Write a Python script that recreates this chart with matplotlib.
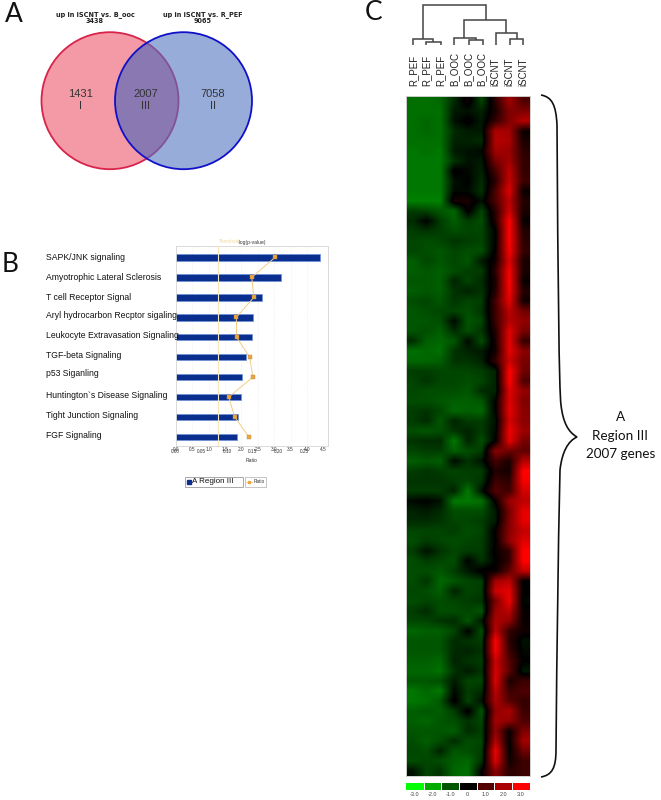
import matplotlib
matplotlib.use("Agg")
import matplotlib.pyplot as plt
from matplotlib.patches import Circle, Rectangle, PathPatch
from matplotlib.path import Path
from matplotlib.colors import LinearSegmentedColormap

W, H = 661, 800
plt.rcParams['font.family'] = ['Liberation Sans', 'DejaVu Sans']

# ---- Panel A data
venn_titles = ["up in iSCNT vs. B_ooc\n3438", "up in iSCNT vs. R_PEF\n9065"]
venn_counts = ["1431\nI", "2007\nIII", "7058\nII"]

# ---- Panel B data
pathways = ["SAPK/JNK signaling", "Amyotrophic Lateral Sclerosis", "T cell Receptor Signal",
            "Aryl hydrocarbon Recptor sigaling", "Leukocyte Extravasation Signaling",
            "TGF-beta Signaling", "p53 Siganling", "Huntington`s Disease Signaling",
            "Tight Junction Signaling", "FGF Signaling"]
label_y = [257, 277, 297, 316, 336, 356, 374, 396, 415, 436]
neg_log_p = [4.39, 3.22, 2.62, 2.34, 2.31, 2.15, 2.02, 2.00, 1.90, 1.87]
ratio = [0.193, 0.148, 0.152, 0.118, 0.1185, 0.144, 0.150, 0.103, 0.115, 0.1425]
threshold = 1.3
top_ticks = [0.0, 0.5, 1.0, 1.5, 2.0, 2.5, 3.0, 3.5, 4.0, 4.5]
bottom_ticks = [0.00, 0.05, 0.10, 0.15, 0.20, 0.25]

# ---- Panel C data
sample_labels = ["R_PEF", "R_PEF", "R_PEF", "B_OOC", "B_OOC", "B_OOC", "iSCNT", "iSCNT", "iSCNT"]
colorbar_values = [-3, -2, -1, 0, 1, 2, 3]
colorbar_labels = ["-3.0", "-2.0", "-1.0", "0", "1.0", "2.0", "3.0"]
heat_rows = [
 [-1.3,-1.3,-1.2,-0.5, 0.2,-0.8, 0.5, 1.9, 0.9],
 [-1.3,-1.3,-1.3,-0.3,-0.2,-0.4, 0.3, 1.5, 1.5],
 [-1.3,-1.2,-1.3,-0.2, 0.1,-0.3, 0.6, 1.5, 2.1],
 [-1.3,-1.2,-1.3,-0.5,-0.3,-0.3, 2.0, 1.9, 0.1],
 [-1.3,-1.3,-1.3,-0.4,-0.4,-0.5, 2.1, 2.0, 0.3],
 [-1.4,-1.3,-1.4,-0.3,-0.2,-0.1, 1.9, 1.8, 0.5],
 [-1.4,-1.4,-1.4,-0.6,-0.2,-0.3, 1.4, 1.9, 0.6],
 [-1.4,-1.4,-1.4, 0.1,-0.1,-0.4, 0.8, 2.2, 0.6],
 [-1.4,-1.4,-1.4,-0.2, 0.0,-0.5, 0.5, 2.3, 0.7],
 [-1.4,-1.4,-1.4,-0.1,-0.1,-0.6, 0.9, 2.6, 0.1],
 [-1.5,-1.5,-1.5, 0.3, 0.3,-0.2, 0.9, 2.2, 0.4],
 [-0.7,-0.8,-1.0,-1.2, 0.1,-0.8, 0.5, 2.4, 0.3],
 [-0.5, 0.0,-0.7,-1.1,-0.7,-0.9, 0.4, 3.0, 0.1],
 [-0.7,-0.6,-0.7,-0.9,-0.8,-0.8, 0.0, 3.0, 0.4],
 [-0.8,-0.9,-0.8,-0.6,-0.7,-0.8, 0.0, 3.0, 0.5],
 [-0.8,-0.9,-1.0,-0.8,-0.9,-0.9, 0.1, 2.9, 0.6],
 [-1.1,-0.8,-1.0,-0.8,-1.0,-0.3, 0.2, 2.6, 0.3],
 [-1.1,-1.0,-1.1,-0.9,-0.7,-0.7, 0.5, 2.9, 0.3],
 [-1.0,-1.0,-1.1,-0.4,-0.8,-0.5, 0.3, 3.0, 0.1],
 [-1.1,-1.0,-1.1,-0.6,-0.4,-0.6, 0.4, 2.9, 0.4],
 [-0.9,-0.8,-1.0,-0.6,-0.8,-0.7, 0.8, 2.7, 0.2],
 [-1.0,-0.9,-0.8,-0.8,-0.9,-0.6, 0.7, 2.2, 1.3],
 [-1.0,-1.0,-0.9,-0.1,-1.0,-0.8, 0.7, 2.1, 1.7],
 [-1.0,-0.9,-1.1,-0.5,-0.9,-0.6, 0.4, 2.6, 1.4],
 [-0.5,-1.1,-1.2,-1.0,-0.1,-0.9, 0.3, 2.7, 0.6],
 [-1.3,-1.2,-1.3,-0.6,-0.4,-0.3, 0.2, 2.7, 1.6],
 [-1.2,-1.2,-1.1,-0.6,-0.6,-0.4, 0.6, 2.4, 1.4],
 [-0.7,-0.7,-0.8,-0.8,-0.8,-0.7,-0.4, 3.0, 1.3],
 [-0.8,-0.6,-0.8,-0.8,-0.9,-0.8,-0.4, 3.0, 0.9],
 [-0.8,-0.9,-0.9,-0.9,-1.0,-0.5,-0.4, 2.6, 1.7],
 [-0.9,-0.9,-1.0,-1.1,-1.1,-1.0, 0.0, 2.6, 1.5],
 [-0.7,-0.6,-0.8,-1.2,-1.1,-1.2, 0.0, 2.7, 1.6],
 [-0.7,-0.5,-1.0,-0.4,-0.7,-0.7,-0.2, 2.5, 1.6],
 [-0.9,-1.0,-0.9,-0.6,-0.4,-0.7,-0.1, 2.8, 1.8],
 [-0.6,-0.5,-0.5,-1.4,-0.4,-0.9, 0.0, 2.7, 1.4],
 [-0.8,-0.7,-0.7,-1.1,-0.9,-0.7, 1.6, 1.3, 1.1],
 [-1.1,-1.0,-1.1,-0.1,-0.6,-0.2, 0.8, 0.3, 2.1],
 [-0.7,-0.6,-0.7,-0.8,-0.7,-0.7, 0.4, 0.2, 3.0],
 [-0.6,-0.6,-0.6,-0.7,-0.8,-0.6, 0.7, 0.5, 2.9],
 [-0.7,-0.7,-0.7,-0.4,-1.4,-0.2, 1.0, 0.7, 2.5],
 [-0.1, 0.0,-0.2,-1.4,-1.4,-1.3, 0.1, 1.8, 2.2],
 [-0.4,-0.3,-0.5,-0.9,-0.9,-0.9,-0.3, 1.4, 2.7],
 [-0.5,-0.5,-0.6,-0.8,-0.8,-0.7,-0.3, 1.5, 2.7],
 [-0.8,-0.8,-0.8,-0.7,-0.9,-0.8, 0.1, 1.6, 2.3],
 [-0.9,-0.7,-0.8,-0.9,-0.8,-0.7, 0.0, 1.7, 2.6],
 [-0.7,-0.2,-0.6,-0.8,-0.7,-0.7, 0.1, 0.6, 3.0],
 [-0.9,-0.7,-0.8,-0.9, 0.0,-0.6, 0.0, 0.6, 3.0],
 [-0.9,-0.9,-1.0,-0.7,-0.3, 0.1, 0.1, 1.1, 2.3],
 [-0.9,-0.6,-1.2,-1.0,-0.8,-0.7, 1.9, 2.2, 0.0],
 [-0.8,-0.9,-1.1,-0.4,-0.8,-0.7, 2.4, 2.7, 0.0],
 [-0.9,-0.8,-0.9,-0.8,-0.7,-0.6, 1.4, 2.8,-0.1],
 [-0.7,-0.5,-0.9,-0.9,-0.8,-1.0, 1.8, 2.2, 0.1],
 [-0.8,-0.8,-0.6,-0.5,-1.0,-0.3, 2.0, 1.7, 0.1],
 [-1.2,-1.1,-1.1,-0.8, 0.0,-0.9, 2.2, 0.6, 0.2],
 [-1.0,-1.0,-1.0,-0.5,-0.6,-0.7, 3.0, 0.5,-0.2],
 [-1.0,-1.0,-1.0,-0.5,-0.4,-0.6, 2.9, 0.7,-0.1],
 [-1.1,-1.1,-1.2,-0.4,-0.6,-0.7, 2.4, 1.0, 0.0],
 [-1.2,-1.2,-1.3,-0.6,-0.3,-0.6, 2.5, 1.1,-0.3],
 [-1.0,-1.0,-0.9,-0.3,-0.8,-0.8, 2.6, 0.3, 0.7],
 [-1.4,-1.2,-1.4,-0.1,-0.7,-0.5, 2.2, 0.7, 0.9],
 [-1.4,-1.3,-1.0, 0.1,-0.8,-0.2, 2.0, 1.0, 0.6],
 [-1.1,-1.0,-1.1,-0.7, 0.1,-1.0, 1.7, 2.0, 0.7],
 [-1.1,-1.2,-1.0,-0.9,-0.6,-0.8, 1.9, 1.7, 0.9],
 [-1.0,-1.0,-1.0,-1.1,-0.5,-0.7, 1.7, 0.1, 1.5],
 [-0.9,-1.1,-0.9,-0.5,-0.9,-0.8, 2.1, 0.0, 1.9],
 [-0.8,-0.9,-0.4,-1.0,-0.9,-0.7, 2.8, 0.0, 1.3],
 [-0.9,-0.8,-0.9,-1.1,-1.2,-0.6, 2.6, 0.2, 0.7],
 [-0.2,-0.8,-0.6,-1.2,-1.3, 0.0, 1.6, 0.5, 0.7],
]
# dendrogram merges: (left x, right x, bar y, left drop y, right drop y), read in pixels
dendrogram = [
 (426, 441, 42, 45, 45), (413, 433, 39, 45, 42),
 (469, 483, 40, 45, 45), (454, 476, 38, 45, 40),
 (510, 523, 39, 45, 45), (496, 517, 33, 45, 39),
 (464, 506, 20, 38, 33), (423, 486, 5, 39, 20),
]

fig = plt.figure(figsize=(W / 100, H / 100), dpi=100)


def box_axes(x0, y0, x1, y1, **kw):
    return fig.add_axes([x0 / W, 1 - y1 / H, (x1 - x0) / W, (y1 - y0) / H], **kw)


ov = fig.add_axes([0, 0, 1, 1], zorder=5)
ov.set_xlim(0, W)
ov.set_ylim(H, 0)
ov.axis('off')
ov.patch.set_alpha(0)

# Panel letters
for s, x, y in [("A", 14, 14), ("B", 10, 264), ("C", 374, 12)]:
    ov.text(x, y, s, fontsize=19, family=['Lato', 'DejaVu Sans'], ha='center', va='center', color='#111111')

# ---- Venn
cy, r = 100.7, 68.5
left = Circle((110, cy), r, fc='#F39AA6', ec='#D8234A', lw=1.3)
ov.add_patch(left)
right_fill = Circle((183.5, cy), r, fc='#97ACD9', ec='none')
ov.add_patch(right_fill)
overlap = Circle((110, cy), r, fc='#8A78B2', ec='#83509A', lw=1.3)
ov.add_patch(overlap)
overlap.set_clip_path(Circle((183.5, cy), r, transform=ov.transData))
ov.add_patch(Circle((183.5, cy), r, fc='none', ec='#1010C8', lw=1.3))
for s, x in zip(venn_titles, [95, 203]):
    ov.text(x, 17.5, s, fontsize=4.7, fontweight='bold', family='DejaVu Sans', ha='center', va='center',
            color='#222222', linespacing=1.15)
for s, x in zip(venn_counts, [81, 146, 213]):
    ov.text(x, 100, s, fontsize=8, ha='center', va='center', color='#333333', linespacing=1.2)

# ---- Panel B
ax = box_axes(175.7, 245.7, 327.7, 446)
ax.set_xlim(0, 4.63)
ax.set_ylim(9.45, -0.59)
ypos = list(range(len(pathways)))
ax.barh(ypos, neg_log_p, height=0.32, color='#0A2E8E', edgecolor='#6D93DC', lw=0.5, zorder=2)
ax.axvline(threshold, color='#F5E6BE', lw=0.8, zorder=3)
for t in top_ticks[1:-1]:
    ax.axvline(t, color='#E4E4E4', lw=0.4, ls=':', zorder=1)
ax.xaxis.tick_top()
ax.xaxis.set_label_position('top')
ax.set_xticks(top_ticks)
ax.set_xticklabels([f"{t:.1f}" for t in top_ticks])
ax.set_xlabel("-log(p-value)", fontsize=3.6, labelpad=1.5, color='#333333')
ax.tick_params(axis='x', labelsize=3.4, length=0, pad=1.0, colors='#333333')
ax.set_yticks([])
for sp in ax.spines.values():
    sp.set_color('#D4D4D4')
    sp.set_linewidth(0.6)
ax.text(threshold + 0.02, -0.66, "Threshold", fontsize=3.4, color='#EFD9A0', ha='left', va='bottom',
        clip_on=False)

ax2 = ax.twiny()
ax2.set_xlim(0, 0.2957)
ax2.plot(ratio, ypos, color='#F3CE85', lw=0.7, zorder=4)
ax2.plot(ratio, ypos, ls='none', marker='s', ms=2.5, mfc='#EBA63E', mec='#B98A4A', mew=0.3, zorder=5)
ax2.xaxis.tick_bottom()
ax2.xaxis.set_label_position('bottom')
ax2.set_xticks(bottom_ticks)
ax2.set_xticklabels([f"{t:.2f}" for t in bottom_ticks])
ax2.set_xlabel("Ratio", fontsize=3.6, labelpad=2.5, color='#333333')
ax2.tick_params(axis='x', labelsize=3.4, length=0, pad=2.5, colors='#333333')
ax2.patch.set_alpha(0)
for sp in ax2.spines.values():
    sp.set_visible(False)

for s, y in zip(pathways, label_y):
    ov.text(45.5, y, s, fontsize=6.2, ha='left', va='center', color='#111111')

# legend
ov.add_patch(Rectangle((185, 477), 58, 9.5, fc='white', ec='#9A9A9A', lw=0.6))
ov.add_patch(Rectangle((244.5, 477), 21.5, 9.5, fc='white', ec='#BBBBBB', lw=0.6))
ov.plot([189], [481.5], ls='none', marker='s', ms=2.6, color='#0A2E8E')
ov.text(192, 481.7, "A Region III", fontsize=5.8, ha='left', va='center', color='#111111')
ov.plot([246, 252], [481.5, 481.5], color='#F3CE85', lw=0.6)
ov.plot([249], [481.5], ls='none', marker='s', ms=1.8, color='#EBA63E')
ov.text(253.5, 481.7, "Ratio", fontsize=3.4, ha='left', va='center', color='#333333')

# ---- Panel C
cmap = LinearSegmentedColormap.from_list('gbr', ['#00FF00', '#000000', '#FF0000'])
hax = box_axes(406, 96, 530, 776)
hax.imshow(heat_rows, cmap=cmap, vmin=-3, vmax=3, aspect='auto', interpolation='bilinear')
hax.set_xticks([])
hax.set_yticks([])
for sp in hax.spines.values():
    sp.set_color('#CFCFCF')
    sp.set_linewidth(0.7)

cb = box_axes(406, 783, 529.5, 790)
cb.imshow([colorbar_values], cmap=cmap, vmin=-3, vmax=3, aspect='auto', interpolation='nearest')
cb.set_xticks([i + 0.5 for i in range(6)], minor=True)
cb.grid(which='minor', axis='x', color='white', lw=0.7)
cb.tick_params(which='minor', length=0)
cb.set_yticks([])
cb.set_xticks(range(7))
cb.set_xticklabels(colorbar_labels)
cb.tick_params(axis='x', which='major', labelsize=4, length=0, pad=1.2, colors='#444444')
for sp in cb.spines.values():
    sp.set_visible(False)

# dendrogram
for xl, xr, y, dl, dr in dendrogram:
    ov.plot([xl, xl, xr, xr], [dl, y, y, dr], color='#444444', lw=1.1, solid_joinstyle='miter',
            solid_capstyle='butt')

col_w = 124 / 9
for i, s in enumerate(sample_labels):
    ov.text(406 + col_w * (i + 0.5), 85.5, s, rotation=90, fontsize=7, ha='center', va='bottom', color='#222222')

# brace
verts = [(541, 95), (552, 97), (556, 105), (557, 125),
         (558, 280), (559, 390), (561, 405),
         (563, 422), (568, 432), (577, 437),
         (568, 441), (562, 452), (560, 470),
         (558, 560), (557, 640), (556, 750),
         (556, 768), (552, 775), (541, 777)]
codes = [Path.MOVETO] + [Path.CURVE4] * 18
ov.add_patch(PathPatch(Path(verts, codes), fc='none', ec='#111111', lw=1.2))

for s, y in [("A", 417), ("Region III", 436), ("2007 genes", 453.5)]:
    ov.text(620.5, y, s, fontsize=9.7, family=['Lato', 'DejaVu Sans'], ha='center', va='center', color='#111111')

fig.savefig("out.png", dpi=100, facecolor='white')
